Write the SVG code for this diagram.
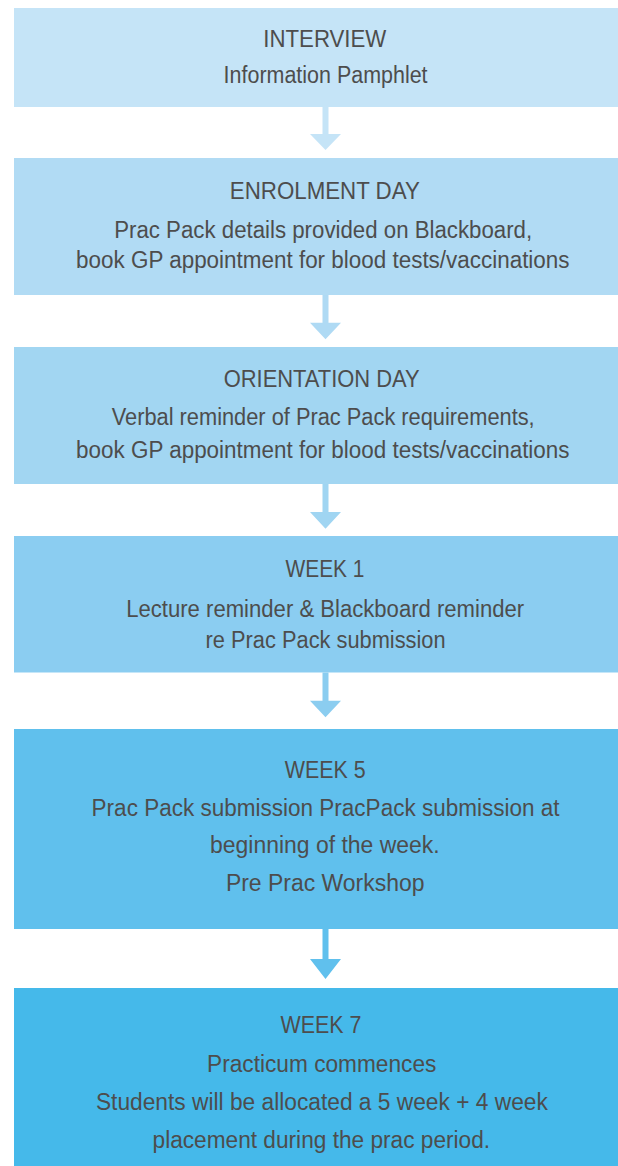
<svg xmlns="http://www.w3.org/2000/svg" width="618" height="1166" viewBox="0 0 618 1166">
<style>
text{font-family:"Liberation Sans",Arial,sans-serif;font-size:23px;fill:#4d4d4d;text-anchor:middle}
</style>
<rect width="618" height="1166" fill="#ffffff"/>
<g id="connectors">
<path d="M322.5 107H328.5V134H341L325.5 150L310 134H322.5Z" fill="#C5E4F7"/>
<path d="M322.5 295H328.5V322.7H341L325.5 339.3L310 322.7H322.5Z" fill="#AFDAF4"/>
<path d="M322.5 484H328.5V512H341L325.5 528.7L310 512H322.5Z" fill="#A0D5F2"/>
<path d="M322.5 672.5H328.5V700.7H341L325.5 717.3L310 700.7H322.5Z" fill="#8BCDF0"/>
<path d="M322.5 929H328.5V959H341L325.5 979L310 959H322.5Z" fill="#60C0ED"/>
</g>
<g id="interview">
<rect x="14" y="8" width="604" height="99" fill="#C5E4F7"/>
<text x="324.8" y="46.7" textLength="123" lengthAdjust="spacingAndGlyphs">INTERVIEW</text>
<text x="325.6" y="83.3" textLength="204" lengthAdjust="spacingAndGlyphs">Information Pamphlet</text>
</g>
<g id="enrolment">
<rect x="14" y="158" width="604" height="137" fill="#B1DBF4"/>
<text x="324.8" y="199.3" textLength="190" lengthAdjust="spacingAndGlyphs">ENROLMENT DAY</text>
<text x="323.2" y="237.7" textLength="418" lengthAdjust="spacingAndGlyphs">Prac Pack details provided on Blackboard,</text>
<text x="322.8" y="268.3" textLength="493.5" lengthAdjust="spacingAndGlyphs">book GP appointment for blood tests/vaccinations</text>
</g>
<g id="orientation">
<rect x="14" y="347" width="604" height="137" fill="#A2D6F2"/>
<text x="321.7" y="387.3" textLength="196" lengthAdjust="spacingAndGlyphs">ORIENTATION DAY</text>
<text x="323.2" y="425" textLength="423" lengthAdjust="spacingAndGlyphs">Verbal reminder of Prac Pack requirements,</text>
<text x="322.8" y="458.3" textLength="493.5" lengthAdjust="spacingAndGlyphs">book GP appointment for blood tests/vaccinations</text>
</g>
<g id="week1">
<rect x="14" y="536" width="604" height="136.5" fill="#8BCDF1"/>
<text x="325" y="576.7" textLength="79" lengthAdjust="spacingAndGlyphs">WEEK 1</text>
<text x="325.2" y="616.7" textLength="398" lengthAdjust="spacingAndGlyphs">Lecture reminder &amp; Blackboard reminder</text>
<text x="325.6" y="647.7" textLength="240" lengthAdjust="spacingAndGlyphs">re Prac Pack submission</text>
</g>
<g id="week5">
<rect x="14" y="729" width="604" height="200" fill="#60C0ED"/>
<text x="325.2" y="778.3" textLength="81" lengthAdjust="spacingAndGlyphs">WEEK 5</text>
<text x="325.6" y="816" textLength="468" lengthAdjust="spacingAndGlyphs">Prac Pack submission PracPack submission at</text>
<text x="324.8" y="853.3" textLength="229.5" lengthAdjust="spacingAndGlyphs">beginning of the week.</text>
<text x="325.2" y="891.3" textLength="198.6" lengthAdjust="spacingAndGlyphs">Pre Prac Workshop</text>
</g>
<g id="week7">
<rect x="14" y="988" width="604" height="178" fill="#45B9EA"/>
<text x="321" y="1033.3" textLength="81" lengthAdjust="spacingAndGlyphs">WEEK 7</text>
<text x="321.7" y="1071.7" textLength="229.3" lengthAdjust="spacingAndGlyphs">Practicum commences</text>
<text x="321.9" y="1110" textLength="452" lengthAdjust="spacingAndGlyphs">Students will be allocated a 5 week + 4 week</text>
<text x="321.3" y="1147.7" textLength="337.5" lengthAdjust="spacingAndGlyphs">placement during the prac period.</text>
</g>
</svg>
